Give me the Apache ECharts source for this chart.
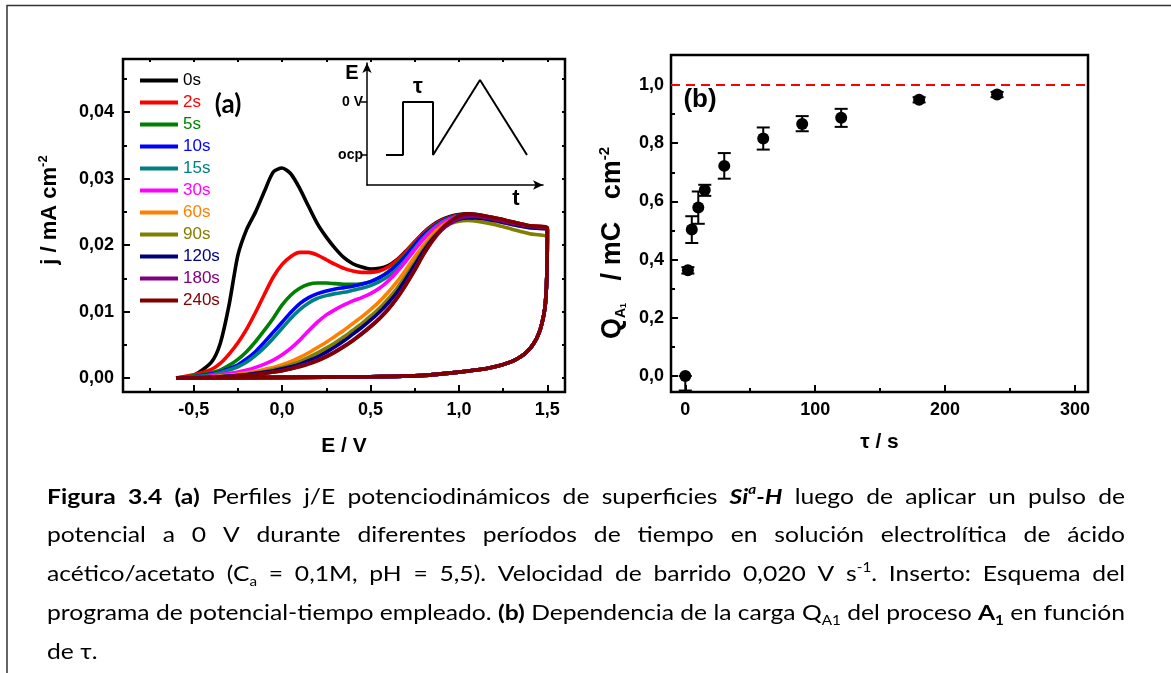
<!DOCTYPE html>
<html>
<head>
<meta charset="utf-8">
<title>Figura 3.4</title>
<script src="https://cdn.jsdelivr.net/npm/echarts@6/dist/echarts.min.js"></script>
<style>
    html, body { margin: 0; padding: 0; background: #fff; }
    #main { width: 1171px; height: 673px; }
</style>
</head>
<body>
<div id="main"></div>
<script>
// ---- (a) perfiles j/E : barrido directo (E_FWD) + barrido inverso comun (E_REV)
var E_FWD = [-0.6, -0.5, -0.4, -0.35, -0.3, -0.25, -0.2, -0.15, -0.1, -0.05, 0, 0.05, 0.1, 0.15, 0.2, 0.25, 0.3, 0.35, 0.4, 0.45, 0.5, 0.55, 0.6, 0.65, 0.7, 0.75, 0.8, 0.85, 0.9, 0.95, 1.0, 1.05, 1.1, 1.2, 1.3, 1.4, 1.5];
var J_0S = [0, 0.0004, 0.0024, 0.0052, 0.0110, 0.0185, 0.0224, 0.0250, 0.0281, 0.0310, 0.0316, 0.0307, 0.0285, 0.0258, 0.0232, 0.0212, 0.0195, 0.0181, 0.0172, 0.0167, 0.0164, 0.0165, 0.0169, 0.0178, 0.0191, 0.0205, 0.0219, 0.0230, 0.0238, 0.0243, 0.0246, 0.0247, 0.0246, 0.0241, 0.0235, 0.0229, 0.0225];
var J_2S = [0, 0.0005, 0.0013, 0.0022, 0.0036, 0.0053, 0.0074, 0.0099, 0.0126, 0.0152, 0.0171, 0.0183, 0.0189, 0.0189, 0.0185, 0.0178, 0.0171, 0.0165, 0.0161, 0.0159, 0.0159, 0.0161, 0.0167, 0.0177, 0.0190, 0.0205, 0.0218, 0.0229, 0.0237, 0.0242, 0.0245, 0.0246, 0.0245, 0.0241, 0.0235, 0.0229, 0.0225];
var J_5S = [0, 0.0003, 0.0008, 0.0012, 0.0019, 0.0028, 0.0040, 0.0055, 0.0072, 0.0090, 0.0110, 0.0125, 0.0135, 0.0141, 0.0143, 0.0143, 0.0142, 0.0141, 0.0141, 0.0142, 0.0145, 0.0151, 0.0160, 0.0172, 0.0186, 0.0202, 0.0216, 0.0227, 0.0235, 0.0241, 0.0244, 0.0245, 0.0244, 0.0240, 0.0234, 0.0228, 0.0224];
var J_10S = [0, 0.0002, 0.0006, 0.0009, 0.0014, 0.0020, 0.0029, 0.0040, 0.0054, 0.0069, 0.0084, 0.0099, 0.0112, 0.0121, 0.0127, 0.0131, 0.0134, 0.0136, 0.0138, 0.0141, 0.0145, 0.0151, 0.0159, 0.0170, 0.0184, 0.0200, 0.0215, 0.0226, 0.0235, 0.0241, 0.0244, 0.0245, 0.0244, 0.0240, 0.0234, 0.0228, 0.0224];
var J_15S = [0, 0.0002, 0.0005, 0.0008, 0.0012, 0.0017, 0.0024, 0.0034, 0.0046, 0.0060, 0.0075, 0.0090, 0.0103, 0.0113, 0.0120, 0.0124, 0.0127, 0.0129, 0.0132, 0.0135, 0.0139, 0.0145, 0.0153, 0.0164, 0.0178, 0.0195, 0.0211, 0.0224, 0.0234, 0.0240, 0.0244, 0.0245, 0.0244, 0.0240, 0.0234, 0.0228, 0.0224];
var J_30S = [0, 0.0001, 0.0003, 0.0005, 0.0007, 0.0009, 0.0012, 0.0016, 0.0021, 0.0027, 0.0035, 0.0045, 0.0057, 0.0071, 0.0084, 0.0095, 0.0103, 0.0110, 0.0116, 0.0121, 0.0127, 0.0135, 0.0146, 0.0160, 0.0176, 0.0193, 0.0209, 0.0222, 0.0232, 0.0239, 0.0243, 0.0244, 0.0243, 0.0239, 0.0233, 0.0227, 0.0223];
var J_60S = [0, 0.0001, 0.0002, 0.0003, 0.0004, 0.0006, 0.0008, 0.0010, 0.0013, 0.0016, 0.0020, 0.0025, 0.0031, 0.0038, 0.0046, 0.0054, 0.0063, 0.0072, 0.0082, 0.0092, 0.0103, 0.0115, 0.0129, 0.0145, 0.0163, 0.0182, 0.0200, 0.0216, 0.0228, 0.0236, 0.0240, 0.0241, 0.0240, 0.0236, 0.0231, 0.0226, 0.0222];
var J_90S = [0, 0.0001, 0.0001, 0.0002, 0.0003, 0.0004, 0.0006, 0.0008, 0.0010, 0.0013, 0.0016, 0.0020, 0.0025, 0.0031, 0.0038, 0.0045, 0.0053, 0.0062, 0.0072, 0.0082, 0.0093, 0.0105, 0.0119, 0.0135, 0.0154, 0.0174, 0.0194, 0.0211, 0.0224, 0.0232, 0.0236, 0.0237, 0.0236, 0.0231, 0.0224, 0.0217, 0.0211];
var J_120S = [0, 0.0001, 0.0001, 0.0002, 0.0003, 0.0004, 0.0005, 0.0007, 0.0009, 0.0011, 0.0014, 0.0017, 0.0021, 0.0026, 0.0032, 0.0039, 0.0047, 0.0056, 0.0066, 0.0076, 0.0087, 0.0099, 0.0113, 0.0129, 0.0149, 0.0170, 0.0191, 0.0209, 0.0223, 0.0233, 0.0239, 0.0241, 0.0241, 0.0237, 0.0231, 0.0226, 0.0222];
var J_180S = [0, 0.0000, 0.0001, 0.0001, 0.0002, 0.0003, 0.0004, 0.0005, 0.0007, 0.0009, 0.0011, 0.0014, 0.0018, 0.0022, 0.0027, 0.0033, 0.0040, 0.0048, 0.0057, 0.0067, 0.0078, 0.0090, 0.0104, 0.0121, 0.0141, 0.0163, 0.0186, 0.0206, 0.0222, 0.0233, 0.0240, 0.0243, 0.0243, 0.0239, 0.0233, 0.0228, 0.0224];
var J_240S = [0, 0.0000, 0.0001, 0.0001, 0.0002, 0.0003, 0.0004, 0.0005, 0.0007, 0.0009, 0.0011, 0.0014, 0.0017, 0.0021, 0.0026, 0.0032, 0.0039, 0.0047, 0.0056, 0.0066, 0.0077, 0.0089, 0.0103, 0.0120, 0.0140, 0.0162, 0.0186, 0.0207, 0.0224, 0.0236, 0.0244, 0.0247, 0.0246, 0.0241, 0.0235, 0.0229, 0.0226];
var E_REV = [1.498, 1.49, 1.48, 1.46, 1.44, 1.42, 1.4, 1.37, 1.33, 1.29, 1.22, 1.15, 1.0, 0.8, 0.5, 0.0, -0.6];
var J_REV = [0.0160, 0.0115, 0.0095, 0.0073, 0.0060, 0.0051, 0.0044, 0.0036, 0.0029, 0.0024, 0.0018, 0.0014, 0.0009, 0.0004, 0.0002, 0.0001, 0.0000];

var NAMES = ['0s', '2s', '5s', '10s', '15s', '30s', '60s', '90s', '120s', '180s', '240s'];
var COLORS = ['#000000', '#ff0000', '#008000', '#0000ff', '#008080', '#ff00ff', '#ff8000', '#808000', '#000080', '#800080', '#800000'];
var J_FWD = [J_0S, J_2S, J_5S, J_10S, J_15S, J_30S, J_60S, J_90S, J_120S, J_180S, J_240S];

// ---- (b) carga Q_A1 vs tau
var TAU = [0, 2, 5, 10, 15, 30, 60, 90, 120, 180, 240];
var Q_A1 = [0.0, 0.363, 0.503, 0.579, 0.639, 0.722, 0.816, 0.866, 0.887, 0.949, 0.967];
var Q_LO = [-0.05, 0.352, 0.457, 0.523, 0.619, 0.678, 0.778, 0.841, 0.856, 0.940, 0.958];
var Q_HI = [0.0, 0.374, 0.549, 0.634, 0.657, 0.766, 0.854, 0.893, 0.918, 0.958, 0.976];
var Q_LIMIT = 1.0;

// ---- inserto: programa E-t
var INSET_T = [1.9, 3.6, 3.6, 6.6, 6.6, 11.3, 16.0];
var INSET_E = [0, 0, 1, 1, 0, 1.415, 0];

// ---- ticks
var E_TICKS = [-0.5, 0, 0.5, 1.0, 1.5];
var E_MINOR = [-0.75, -0.25, 0.25, 0.75, 1.25];
var J_TICKS = [0, 0.01, 0.02, 0.03, 0.04];
var J_MINOR = [0.005, 0.015, 0.025, 0.035, 0.045];
var TAU_TICKS = [0, 100, 200, 300];
var TAU_MINOR = [50, 150, 250];
var Q_TICKS = [0, 0.2, 0.4, 0.6, 0.8, 1.0];
var Q_MINOR = [0.1, 0.3, 0.5, 0.7, 0.9];

var ARIAL = '"Liberation Sans", Arial, sans-serif';
var CAPFONT = 'Lato, "Noto Sans", sans-serif';

function comma(d) {
    return function (v) { return v.toFixed(d).replace('.', ','); };
}

// eje con ticks hacia adentro
function axis(grid, pos, min, max, ticks, len, labels, fmt) {
    return {
        type: 'value', gridIndex: grid, position: pos, min: min, max: max,
        axisLine: { show: false, onZero: false },
        splitLine: { show: false },
        axisTick: { show: true, inside: true, length: len, customValues: ticks, lineStyle: { color: '#000', width: 2 } },
        axisLabel: labels ? {
            show: true, customValues: ticks, formatter: fmt, margin: 9,
            color: '#000', fontSize: 18, fontWeight: 'bold', fontFamily: ARIAL
        } : { show: false }
    };
}

var xAxes = [
    axis(0, 'bottom', -0.9, 1.6, E_TICKS, 7, true, comma(1)),
    axis(0, 'bottom', -0.9, 1.6, E_MINOR, 4, false),
    axis(0, 'top', -0.9, 1.6, E_TICKS.concat(E_MINOR), 3, false),
    axis(1, 'bottom', -11, 310, TAU_TICKS, 7, true, function (v) { return String(v); }),
    axis(1, 'bottom', -11, 310, TAU_MINOR, 4, false),
    {
        type: 'value', gridIndex: 2, min: 0, max: 17.6,
        axisLine: { show: true, onZero: false, symbol: ['none', 'arrow'], symbolSize: [7, 10], lineStyle: { color: '#000', width: 1.5 } },
        axisTick: { show: false }, axisLabel: { show: false }, splitLine: { show: false }
    }
];
xAxes[0].name = 'E / V';
xAxes[0].nameLocation = 'middle';
xAxes[0].nameGap = 44;
xAxes[0].nameTextStyle = { color: '#000', fontSize: 21, fontWeight: 'bold', fontFamily: ARIAL };
xAxes[3].name = 'τ / s';
xAxes[3].nameLocation = 'middle';
xAxes[3].nameGap = 40;
xAxes[3].nameTextStyle = { color: '#000', fontSize: 21, fontWeight: 'bold', fontFamily: ARIAL };

var yAxes = [
    axis(0, 'left', -0.0021, 0.048, J_TICKS, 7, true, comma(2)),
    axis(0, 'left', -0.0021, 0.048, J_MINOR, 4, false),
    axis(0, 'right', -0.0021, 0.048, J_TICKS.concat(J_MINOR), 3, false),
    axis(1, 'left', -0.055, 1.103, Q_TICKS, 7, true, comma(1)),
    axis(1, 'left', -0.055, 1.103, Q_MINOR, 4, false),
    {
        type: 'value', gridIndex: 2, min: -0.566, max: 1.736,
        axisLine: { show: true, onZero: false, symbol: ['none', 'arrow'], symbolSize: [7, 10], lineStyle: { color: '#000', width: 1.5 } },
        axisTick: { show: true, inside: false, length: 6, customValues: [0, 1], lineStyle: { color: '#000', width: 1.5 } },
        axisLabel: {
            show: true, customValues: [0, 1], margin: 4,
            formatter: function (v) { return v === 0 ? 'ocp' : '0 V'; },
            color: '#000', fontSize: 14, fontWeight: 'bold', fontFamily: ARIAL
        },
        splitLine: { show: false }
    }
];
yAxes[3].axisLabel.margin = 7;

// series (a)
var series = [];
for (var i = 0; i < NAMES.length; i++) {
    var pts = E_FWD.map(function (e, k) { return [e, J_FWD[i][k]]; });
    pts = pts.concat(E_REV.map(function (e, k) { return [e, J_REV[k]]; }));
    series.push({
        name: NAMES[i], type: 'line', xAxisIndex: 0, yAxisIndex: 0,
        data: pts, showSymbol: false, smooth: 0.25,
        lineStyle: { color: COLORS[i], width: 3.6 }, itemStyle: { color: COLORS[i] },
        z: 2 + i
    });
}

// inserto
series.push({
    type: 'line', xAxisIndex: 5, yAxisIndex: 5,
    data: INSET_T.map(function (t, k) { return [t, INSET_E[k]]; }),
    showSymbol: false, lineStyle: { color: '#000', width: 2 }, silent: true
});

// (b) barras de error + puntos
series.push({
    type: 'custom', xAxisIndex: 3, yAxisIndex: 3,
    data: TAU.map(function (t, k) { return [t, Q_LO[k], Q_HI[k]]; }),
    encode: { x: 0, y: [1, 2] },
    renderItem: function (params, api) {
        var lo = api.coord([api.value(0), api.value(1)]);
        var hi = api.coord([api.value(0), api.value(2)]);
        var w = 6.5;
        var st = { stroke: '#000', lineWidth: 2 };
        return {
            type: 'group',
            children: [
                { type: 'line', shape: { x1: lo[0], y1: lo[1], x2: hi[0], y2: hi[1] }, style: st },
                { type: 'line', shape: { x1: lo[0] - w, y1: lo[1], x2: lo[0] + w, y2: lo[1] }, style: st },
                { type: 'line', shape: { x1: hi[0] - w, y1: hi[1], x2: hi[0] + w, y2: hi[1] }, style: st }
            ]
        };
    },
    z: 3
});
series.push({
    type: 'scatter', xAxisIndex: 3, yAxisIndex: 3,
    data: TAU.map(function (t, k) { return [t, Q_A1[k]]; }),
    symbol: 'circle', symbolSize: 12, itemStyle: { color: '#000', opacity: 1 }, z: 4,
    markLine: {
        silent: true, symbol: 'none', label: { show: false },
        lineStyle: { color: '#ff0000', width: 2, type: [9, 6] },
        data: [{ yAxis: Q_LIMIT }]
    }
});

// ---- pie de figura justificado
var CAP_LEFT = 47, CAP_WIDTH = 1078, CAP_TOP = 497, CAP_STEP = 38.8;
var capLines = [
    '{b|Figura} {b|3.4} {b|(a)} Perfiles j/E potenciodinámicos de superficies {bi|Si}{bisup|a}{bi|-H} luego de aplicar un pulso de',
    'potencial a 0 V durante diferentes períodos de tiempo en solución electrolítica de ácido',
    'acético/acetato (C{sub|a} = 0,1M, pH = 5,5). Velocidad de barrido 0,020 V s{sup|-1}. Inserto: Esquema del',
    'programa de potencial-tiempo empleado. {b|(b)} Dependencia de la carga Q{sub|A1} del proceso {b|A}{bsub|1} en función',
    'de τ.'
];
function makeRich(fs) {
    var fss = fs * 0.62;
    var r = {
        n: { fontSize: fs },
        b: { fontSize: fs, fontWeight: 'bold' },
        bi: { fontSize: fs, fontWeight: 'bold', fontStyle: 'italic' },
        bisup: { fontSize: fss, fontWeight: 'bold', fontStyle: 'italic', verticalAlign: 'top' },
        sub: { fontSize: fss, verticalAlign: 'bottom' },
        sup: { fontSize: fss, verticalAlign: 'top' },
        bsub: { fontSize: fss, fontWeight: 'bold', verticalAlign: 'bottom' }
    };
    for (var key in r) {
        r[key].fontFamily = CAPFONT;
        r[key].color = '#000';
        r[key].lineHeight = r[key].fontSize === fs ? Math.round(fs * 1.3) : Math.round(fss * 1.15);
    }
    return r;
}
var ctx = document.createElement('canvas').getContext('2d');
function segs(word) {
    var out = [], re = /\{(\w+)\|([^}]*)\}|([^{]+)/g, m;
    while ((m = re.exec(word))) {
        if (m[1]) out.push({ s: m[1], t: m[2] });
        else out.push({ s: 'n', t: m[3] });
    }
    return out;
}
function wordWidth(sg, rich) {
    var w = 0;
    sg.forEach(function (p) {
        var r = rich[p.s];
        ctx.font = (r.fontStyle || 'normal') + ' ' + (r.fontWeight || 'normal') + ' ' + r.fontSize + 'px ' + CAPFONT;
        w += ctx.measureText(p.t).width;
    });
    return w;
}
// el original esta estirado en horizontal: misma altura de letra, escala en x
var FS = 20.5;
var capRich = makeRich(FS);
ctx.font = 'normal normal ' + FS + 'px ' + CAPFONT;
var SPACE = ctx.measureText(' ').width;
var natural = 0;
capLines.slice(0, 4).forEach(function (line) {
    var ws = line.split(' ').map(segs);
    var w = ws.reduce(function (a, sg) { return a + wordWidth(sg, capRich); }, 0) + (ws.length - 1) * SPACE;
    natural = Math.max(natural, w);
});
var SX = Math.max(1, CAP_WIDTH / natural);

var graphics = [];
capLines.forEach(function (line, li) {
    var words = line.split(' ').map(segs);
    var widths = words.map(function (sg) { return wordWidth(sg, capRich) * SX; });
    var total = widths.reduce(function (a, b) { return a + b; }, 0);
    var last = li === capLines.length - 1;
    var gap = last ? SPACE * SX : (CAP_WIDTH - total) / (words.length - 1);
    var x = CAP_LEFT;
    words.forEach(function (sg, k) {
        graphics.push({
            type: 'text', x: x, y: CAP_TOP + li * CAP_STEP, scaleX: SX, silent: true,
            style: {
                text: sg.map(function (p) { return '{' + p.s + '|' + p.t + '}'; }).join(''),
                rich: capRich, fontSize: FS, fontFamily: CAPFONT,
                align: 'left', verticalAlign: 'middle', textAlign: 'left', textVerticalAlign: 'middle'
            }
        });
        x += widths[k] + gap;
    });
});

// marco, etiquetas
function label(x, y, text, font, extra) {
    var el = {
        type: 'text', x: x, y: y, silent: true,
        style: Object.assign({
            text: text, fill: '#000', font: font,
            align: 'center', verticalAlign: 'middle', textAlign: 'center', textVerticalAlign: 'middle'
        }, extra || {})
    };
    return el;
}
graphics.push({
    type: 'polyline', silent: true,
    shape: { points: [[7, 673], [7, 5.5], [1171, 5.5]] },
    style: { stroke: '#333', lineWidth: 1.5, fill: null }
});
graphics.push(label(228, 105, '(a)', 'bold 26px ' + CAPFONT));
graphics.push(label(700, 100, '(b)', 'bold 26px ' + ARIAL));
graphics.push(label(352, 73, 'E', 'bold 20px ' + ARIAL));
graphics.push(label(418, 87, 'τ', 'bold 22px ' + ARIAL));
graphics.push(label(516, 199, 't', 'bold 22px ' + ARIAL));
var yNameA = label(50, 210, '{t|j / mA cm}{s|-2}', 'bold 22px ' + ARIAL, {
    rich: {
        t: { fontSize: 22, fontWeight: 'bold', fontFamily: ARIAL, lineHeight: 26 },
        s: { fontSize: 13, fontWeight: 'bold', fontFamily: ARIAL, lineHeight: 14, verticalAlign: 'top' }
    }
});
yNameA.rotation = Math.PI / 2;
graphics.push(yNameA);
var yNameB = label(613, 243, '{t|Q}{s|A}{ss|1}{t|   / mC   cm}{p|-2}', 'bold 27px ' + ARIAL, {
    rich: {
        t: { fontSize: 27, fontWeight: 'bold', fontFamily: ARIAL, lineHeight: 31 },
        s: { fontSize: 14, fontWeight: 'bold', fontFamily: ARIAL, lineHeight: 17, verticalAlign: 'bottom' },
        ss: { fontSize: 9, fontWeight: 'bold', fontFamily: ARIAL, lineHeight: 11, verticalAlign: 'bottom' },
        p: { fontSize: 15, fontWeight: 'bold', fontFamily: ARIAL, lineHeight: 15, verticalAlign: 'top' }
    }
});
yNameB.rotation = Math.PI / 2;
graphics.push(yNameB);

var myChart = echarts.init(document.getElementById('main'), null, { renderer: 'canvas' });
var option = {
    animation: false,
    backgroundColor: '#fff',
    grid: [
        { left: 123, top: 59, width: 442, height: 333, show: true, borderColor: '#000', borderWidth: 2.5, backgroundColor: 'transparent' },
        { left: 671, top: 55, width: 417, height: 337, show: true, borderColor: '#000', borderWidth: 2.5, backgroundColor: 'transparent' },
        { left: 367, top: 63, width: 176, height: 122 }
    ],
    legend: {
        orient: 'vertical', left: 135, top: 67, itemGap: 5,
        itemWidth: 38, itemHeight: 4, icon: 'rect', selectedMode: false,
        textStyle: { fontSize: 17, fontFamily: ARIAL, lineHeight: 17 },
        data: NAMES.map(function (n, i) { return { name: n, textStyle: { color: COLORS[i] } }; })
    },
    xAxis: xAxes,
    yAxis: yAxes,
    series: series,
    graphic: { elements: graphics }
};
myChart.setOption(option);
</script>
</body>
</html>
